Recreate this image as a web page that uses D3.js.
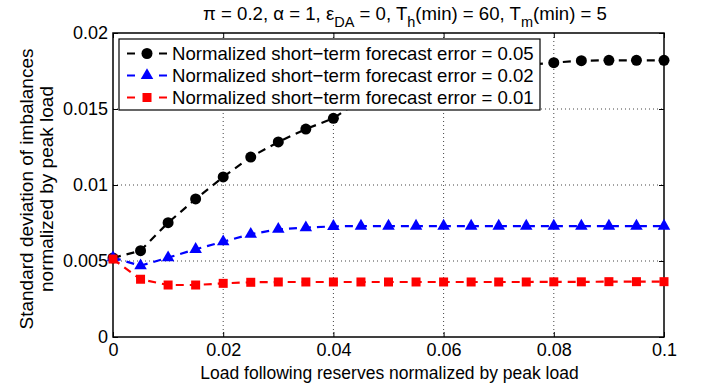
<!DOCTYPE html>
<html>
<head>
<meta charset="utf-8">
<script src="https://cdn.jsdelivr.net/npm/d3@7"></script>
<style>
  body { margin: 0; background: #fff; }
  svg { font-family: "Liberation Sans", Arial, sans-serif; }
</style>
</head>
<body>
<svg id="chart" width="710" height="388"></svg>
<script>
// x values: load following reserves normalized by peak load
const xVals = [0, 0.005, 0.01, 0.015, 0.02, 0.025, 0.03, 0.035, 0.04, 0.045, 0.05,
  0.055, 0.06, 0.065, 0.07, 0.075, 0.08, 0.085, 0.09, 0.095, 0.1];

const err05 = [0.0052, 0.00568, 0.00752, 0.00908, 0.01053, 0.01184, 0.01283, 0.01368, 0.01439, 0.0156,
  0.0162, 0.0167, 0.0171, 0.0174, 0.0177, 0.0179, 0.01805, 0.01818, 0.0182, 0.0182, 0.0182];
const err02 = [0.00522, 0.00469, 0.00522, 0.00577, 0.00627, 0.00676, 0.00709, 0.00719, 0.00728, 0.0073,
  0.0073, 0.0073, 0.0073, 0.0073, 0.0073, 0.0073, 0.0073, 0.0073, 0.0073, 0.0073, 0.0073];
const err01 = [0.00513, 0.0038, 0.00342, 0.00342, 0.00353, 0.0036, 0.00362, 0.00362, 0.00362, 0.00362,
  0.00362, 0.00362, 0.00362, 0.00362, 0.00362, 0.00362, 0.00363, 0.00363, 0.00364, 0.00364, 0.00364];

const seriesNames = [
  "Normalized short\u2212term forecast error = 0.05",
  "Normalized short\u2212term forecast error = 0.02",
  "Normalized short\u2212term forecast error = 0.01"
];
const xTicks = [0, 0.02, 0.04, 0.06, 0.08, 0.1];
const yTicks = [0, 0.005, 0.01, 0.015, 0.02];

const series = [
  { name: seriesNames[0], values: err05, color: "#000", marker: "circle" },
  { name: seriesNames[1], values: err02, color: "#0000ff", marker: "triangle" },
  { name: seriesNames[2], values: err01, color: "#ff0000", marker: "square" }
];

const svg = d3.select("#chart");
const margin = { top: 33, right: 46, bottom: 51, left: 113 };
const width = 710 - margin.left - margin.right;
const height = 388 - margin.top - margin.bottom;

const g = svg.append("g").attr("transform", `translate(${margin.left},${margin.top})`);

const x = d3.scaleLinear().domain([0, 0.1]).range([0, width]);
const y = d3.scaleLinear().domain([0, 0.02]).range([height, 0]);

// dotted grid
g.append("g").selectAll("line").data(xTicks.slice(1, -1)).enter().append("line")
  .attr("x1", d => x(d)).attr("x2", d => x(d)).attr("y1", 0).attr("y2", height)
  .attr("stroke", "#444").attr("stroke-width", 1).attr("stroke-dasharray", "1,3");
g.append("g").selectAll("line").data(yTicks.slice(1, -1)).enter().append("line")
  .attr("y1", d => y(d)).attr("y2", d => y(d)).attr("x1", 0).attr("x2", width)
  .attr("stroke", "#444").attr("stroke-width", 1).attr("stroke-dasharray", "1,3");

// axes (inward ticks, MATLAB style)
const fmt = d => d === 0 ? "0" : String(d);
g.append("g").attr("transform", `translate(0,${height})`)
  .call(d3.axisBottom(x).tickValues(xTicks).tickSize(-5).tickPadding(6).tickFormat(fmt))
  .call(a => a.select(".domain").remove())
  .selectAll("text").style("font-size", "18px").attr("fill", "#000");
g.append("g")
  .call(d3.axisLeft(y).tickValues(yTicks).tickSize(-5).tickPadding(5).tickFormat(fmt))
  .call(a => a.select(".domain").remove())
  .selectAll("text").style("font-size", "18px").attr("fill", "#000");
g.append("g")
  .call(d3.axisTop(x).tickValues(xTicks).tickSize(-5).tickFormat(""))
  .call(a => a.select(".domain").remove());
g.append("g").attr("transform", `translate(${width},0)`)
  .call(d3.axisRight(y).tickValues(yTicks).tickSize(-5).tickFormat(""))
  .call(a => a.select(".domain").remove());
g.selectAll(".tick line").attr("stroke", "#000");

g.append("rect").attr("width", width).attr("height", height)
  .attr("fill", "none").attr("stroke", "#000").attr("stroke-width", 1.5);

// lines and markers
const line = d3.line().x((d, i) => x(xVals[i])).y(d => y(d));

function drawMarker(sel, type, color, cx, cy) {
  if (type === "circle") {
    sel.append("circle").attr("cx", cx).attr("cy", cy).attr("r", 5.5).attr("fill", color);
  } else if (type === "triangle") {
    sel.append("path")
      .attr("d", d3.symbol().type(d3.symbolTriangle).size(68)())
      .attr("transform", `translate(${cx},${cy})`).attr("fill", color);
  } else {
    sel.append("rect").attr("x", cx - 4.5).attr("y", cy - 4.5).attr("width", 9).attr("height", 9)
      .attr("fill", color);
  }
}

series.forEach(s => {
  g.append("path").datum(s.values).attr("d", line)
    .attr("fill", "none").attr("stroke", s.color).attr("stroke-width", 2.2)
    .attr("stroke-dasharray", "8,6");
  const mg = g.append("g");
  s.values.forEach((v, i) => drawMarker(mg, s.marker, s.color, x(xVals[i]), y(v)));
});

// legend
const lg = g.append("g").attr("transform", "translate(6,6)");
lg.append("rect").attr("width", 421).attr("height", 71)
  .attr("fill", "#fff").attr("stroke", "#000").attr("stroke-width", 1.2);
series.forEach((s, i) => {
  const ly = 14.5 + i * 22;
  lg.append("line").attr("x1", 8).attr("x2", 48).attr("y1", ly).attr("y2", ly)
    .attr("stroke", s.color).attr("stroke-width", 2.2).attr("stroke-dasharray", "8,24");
  drawMarker(lg, s.marker, s.color, 28, ly);
  lg.append("text").attr("x", 53).attr("y", ly + 6.5).style("font-size", "18.6px")
    .attr("fill", "#000").text(s.name);
});

// title
const title = svg.append("text").attr("x", 405).attr("y", 20).attr("text-anchor", "middle")
  .style("font-size", "18.6px").attr("fill", "#000");
title.append("tspan").text("\u03c0 = 0.2, \u03b1 = 1, \u03b5");
title.append("tspan").attr("dy", 7).style("font-size", "14.5px").text("DA");
title.append("tspan").attr("dy", -7).text(" = 0, T");
title.append("tspan").attr("dy", 7).style("font-size", "14.5px").text("h");
title.append("tspan").attr("dy", -7).text("(min) = 60, T");
title.append("tspan").attr("dy", 7).style("font-size", "14.5px").text("m");
title.append("tspan").attr("dy", -7).text("(min) = 5");

// axis labels
svg.append("text").attr("x", margin.left + width / 2 + 1).attr("y", 379).attr("text-anchor", "middle")
  .style("font-size", "17.5px").attr("fill", "#000")
  .text("Load following reserves normalized by peak load");
const yl = svg.append("text").attr("transform", `translate(33,189) rotate(-90)`)
  .attr("text-anchor", "middle").style("font-size", "19px").attr("fill", "#000");
yl.append("tspan").attr("x", 0).attr("dy", 0).text("Standard deviation of imbalances");
yl.append("tspan").attr("x", 0).attr("dy", 20).text("normalized by peak load");
</script>
</body>
</html>
